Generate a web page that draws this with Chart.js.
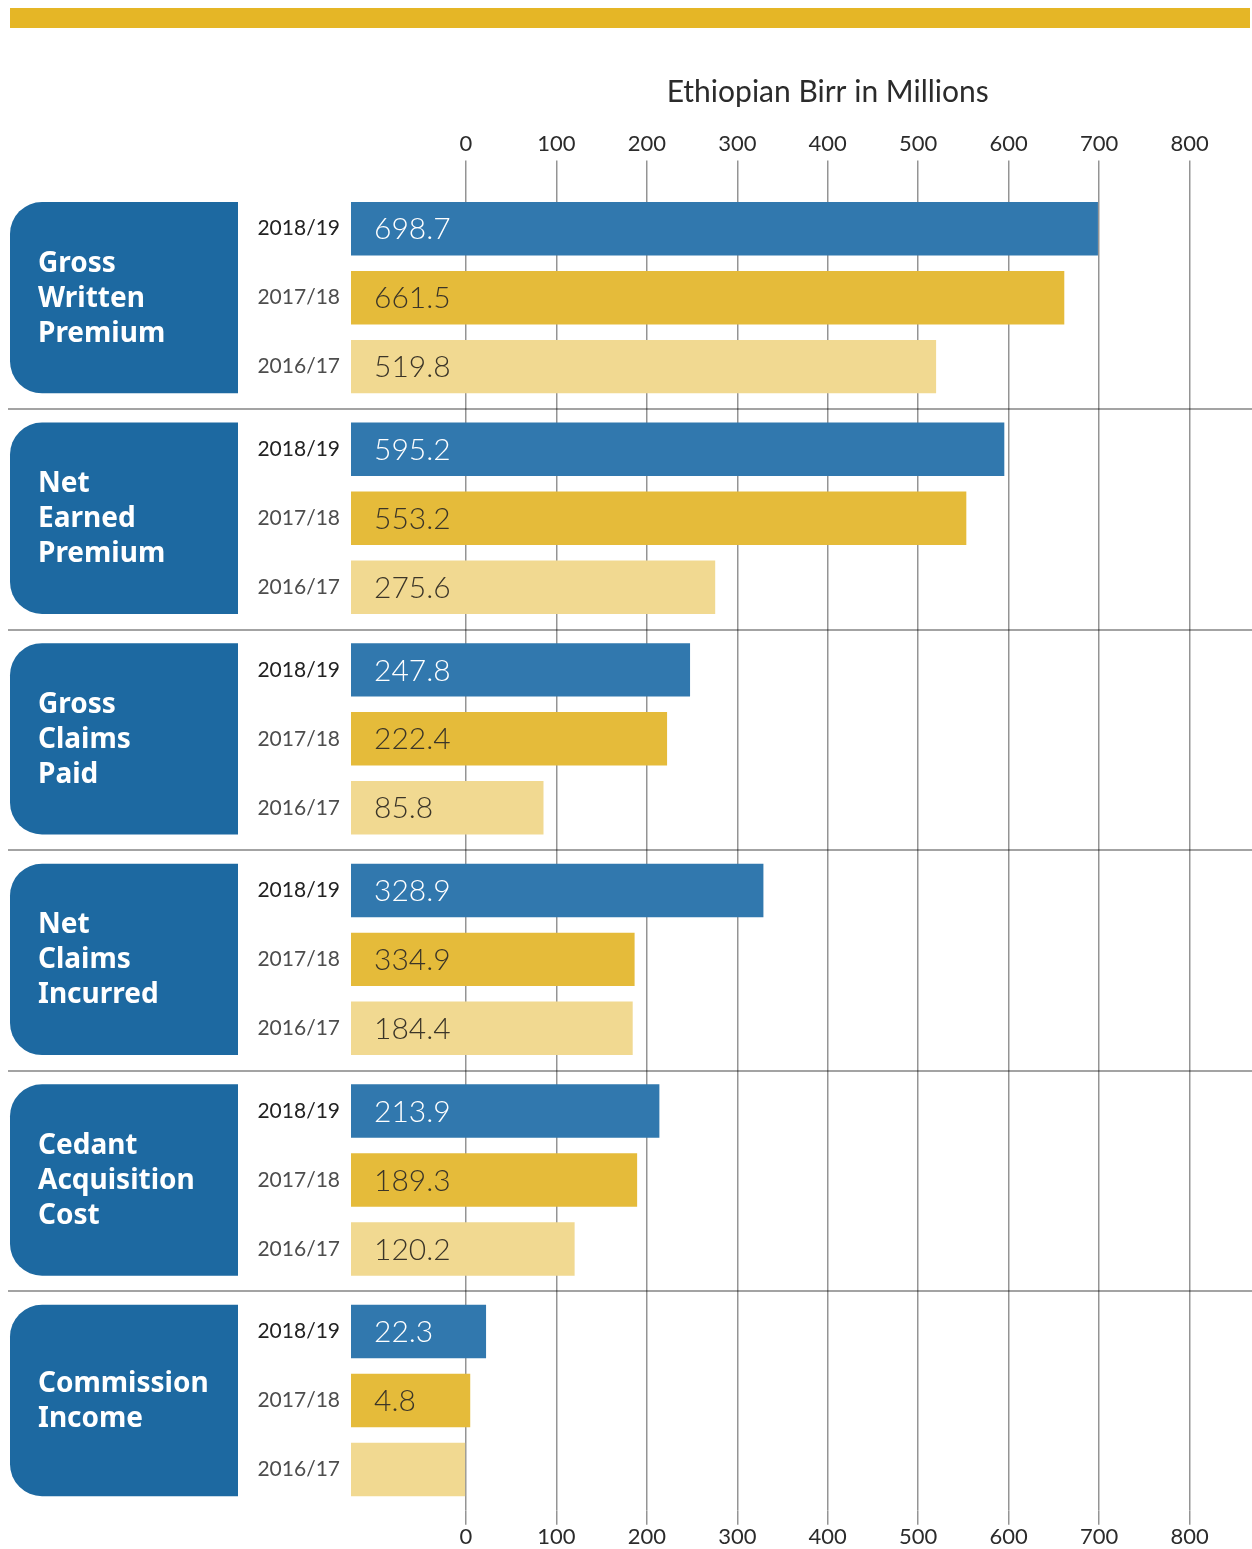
<!DOCTYPE html>
<html>
<head>
<meta charset="utf-8">
<script src="https://cdn.jsdelivr.net/npm/chart.js@4.4.0/dist/chart.umd.min.js"></script>
<style>
  html, body { margin: 0; padding: 0; background: #fff; }
  canvas { display: block; }
</style>
</head>
<body>
<canvas id="myChart" width="1252" height="1549"></canvas>
<script>
const metrics = [
  ['Gross', 'Written', 'Premium'],
  ['Net', 'Earned', 'Premium'],
  ['Gross', 'Claims', 'Paid'],
  ['Net', 'Claims', 'Incurred'],
  ['Cedant', 'Acquisition', 'Cost'],
  ['Commission', 'Income']
];
const years = ['2018/19', '2017/18', '2016/17'];

// printed values
const values1819 = [698.7, 595.2, 247.8, 328.9, 213.9, 22.3];
const values1718 = [661.5, 553.2, 222.4, 334.9, 189.3, 4.8];
const values1617 = [519.8, 275.6, 85.8, 184.4, 120.2, null];

// bar lengths as drawn in the source (the 334.9 bar is drawn much shorter there)
const bars1819 = [698.7, 595.2, 247.8, 328.9, 213.9, 22.3];
const bars1718 = [661.5, 553.2, 222.4, 186.5, 189.3, 4.8];
const bars1617 = [519.8, 275.6, 85.8, 184.4, 120.2, 0];

const xTicks = [0, 100, 200, 300, 400, 500, 600, 700, 800];
const axisMin = -127;
const axisMax = 869;

const barColors = ['#3178ae', '#e5bb3a', '#f1d991'];
const printed = [values1819, values1718, values1617];

const datasets = [bars1819, bars1718, bars1617].map((arr, i) => ({
  label: years[i],
  data: arr.map(v => [axisMin, v]),
  backgroundColor: barColors[i],
  borderWidth: 0,
  categoryPercentage: 0.938,
  barPercentage: 0.775
}));

const setTicks = axis => { axis.ticks = xTicks.map(v => ({ value: v })); };

// boxes, year labels, values, title, separators
const decor = {
  id: 'decor',
  beforeDraw(chart) {
    const ctx = chart.ctx;
    const x = chart.scales.x;
    const y = chart.scales.y;
    ctx.save();
    ctx.fillStyle = '#e5b626';
    ctx.fillRect(10, 8, 1240, 20);

    ctx.fillStyle = '#2b2b2b';
    ctx.font = '30px Lato';
    ctx.textAlign = 'center';
    ctx.textBaseline = 'middle';
    ctx.fillText('Ethiopian Birr in Millions', (x.getPixelForValue(0) + x.getPixelForValue(800)) / 2, 92);

    ctx.strokeStyle = '#a3a3a3';
    ctx.lineWidth = 2;
    for (let i = 1; i < metrics.length; i++) {
      const yy = Math.round((y.getPixelForValue(i - 1) + y.getPixelForValue(i)) / 2) + 1;
      ctx.beginPath();
      ctx.moveTo(8, yy);
      ctx.lineTo(chart.width, yy);
      ctx.stroke();
    }
    ctx.restore();
  },
  afterDatasetsDraw(chart) {
    const ctx = chart.ctx;
    const m0 = chart.getDatasetMeta(0);
    const m2 = chart.getDatasetMeta(2);
    ctx.save();

    metrics.forEach((lines, i) => {
      const top = m0.data[i].y - m0.data[i].height / 2;
      const bottom = m2.data[i].y + m2.data[i].height / 2;
      ctx.fillStyle = '#1d69a1';
      ctx.beginPath();
      ctx.roundRect(10, top, 228, bottom - top, [32, 0, 0, 32]);
      ctx.fill();
      ctx.fillStyle = '#ffffff';
      ctx.font = 'bold 28px "Noto Sans"';
      ctx.textAlign = 'left';
      ctx.textBaseline = 'middle';
      const mid = (top + bottom) / 2;
      lines.forEach((t, k) => {
        ctx.fillText(t, 38, mid + 1 + (k - (lines.length - 1) / 2) * 35);
      });
    });

    for (let d = 0; d < 3; d++) {
      const meta = chart.getDatasetMeta(d);
      meta.data.forEach((el, i) => {
        ctx.textBaseline = 'middle';
        ctx.textAlign = 'right';
        ctx.font = '21px Lato';
        ctx.fillStyle = d === 0 ? '#222222' : '#4d4d4d';
        ctx.fillText(years[d], chart.chartArea.left - 11, el.y);

        const v = printed[d][i];
        if (v === null) return;
        ctx.textAlign = 'left';
        ctx.font = '300 30px Lato';
        ctx.fillStyle = d === 0 ? '#ffffff' : '#3b3528';
        ctx.fillText(v.toFixed(1), Math.min(el.base, el.x) + 23, el.y + 1);
      });
    }
    ctx.restore();
  }
};

var chartContext = document.getElementById('myChart').getContext('2d');
var myChart = new Chart(chartContext, {
  type: 'bar',
  data: {
    labels: metrics.map(m => m.join(' ')),
    datasets: datasets
  },
  options: {
    indexAxis: 'y',
    responsive: false,
    animation: false,
    layout: { padding: { left: 351, top: 128, right: 0, bottom: 0 } },
    plugins: {
      legend: { display: false },
      tooltip: { enabled: false }
    },
    scales: {
      y: { type: 'category', display: false },
      x: {
        position: 'top',
        min: axisMin,
        max: axisMax,
        z: 1,
        afterBuildTicks: setTicks,
        border: { display: false },
        grid: { color: 'rgba(0,0,0,0.42)', lineWidth: 1.5, tickLength: 27 },
        ticks: { autoSkip: false, maxRotation: 0, padding: 3, color: '#2b2b2b', font: { family: 'Lato', size: 22 } }
      },
      x2: {
        type: 'linear',
        position: 'bottom',
        min: axisMin,
        max: axisMax,
        afterBuildTicks: setTicks,
        border: { display: false },
        grid: { drawOnChartArea: false, color: 'rgba(0,0,0,0.42)', lineWidth: 1.5, tickLength: 14 },
        ticks: { autoSkip: false, maxRotation: 0, padding: 0, color: '#2b2b2b', font: { family: 'Lato', size: 22, lineHeight: 1.1 } }
      }
    }
  },
  plugins: [decor]
});
</script>
</body>
</html>
